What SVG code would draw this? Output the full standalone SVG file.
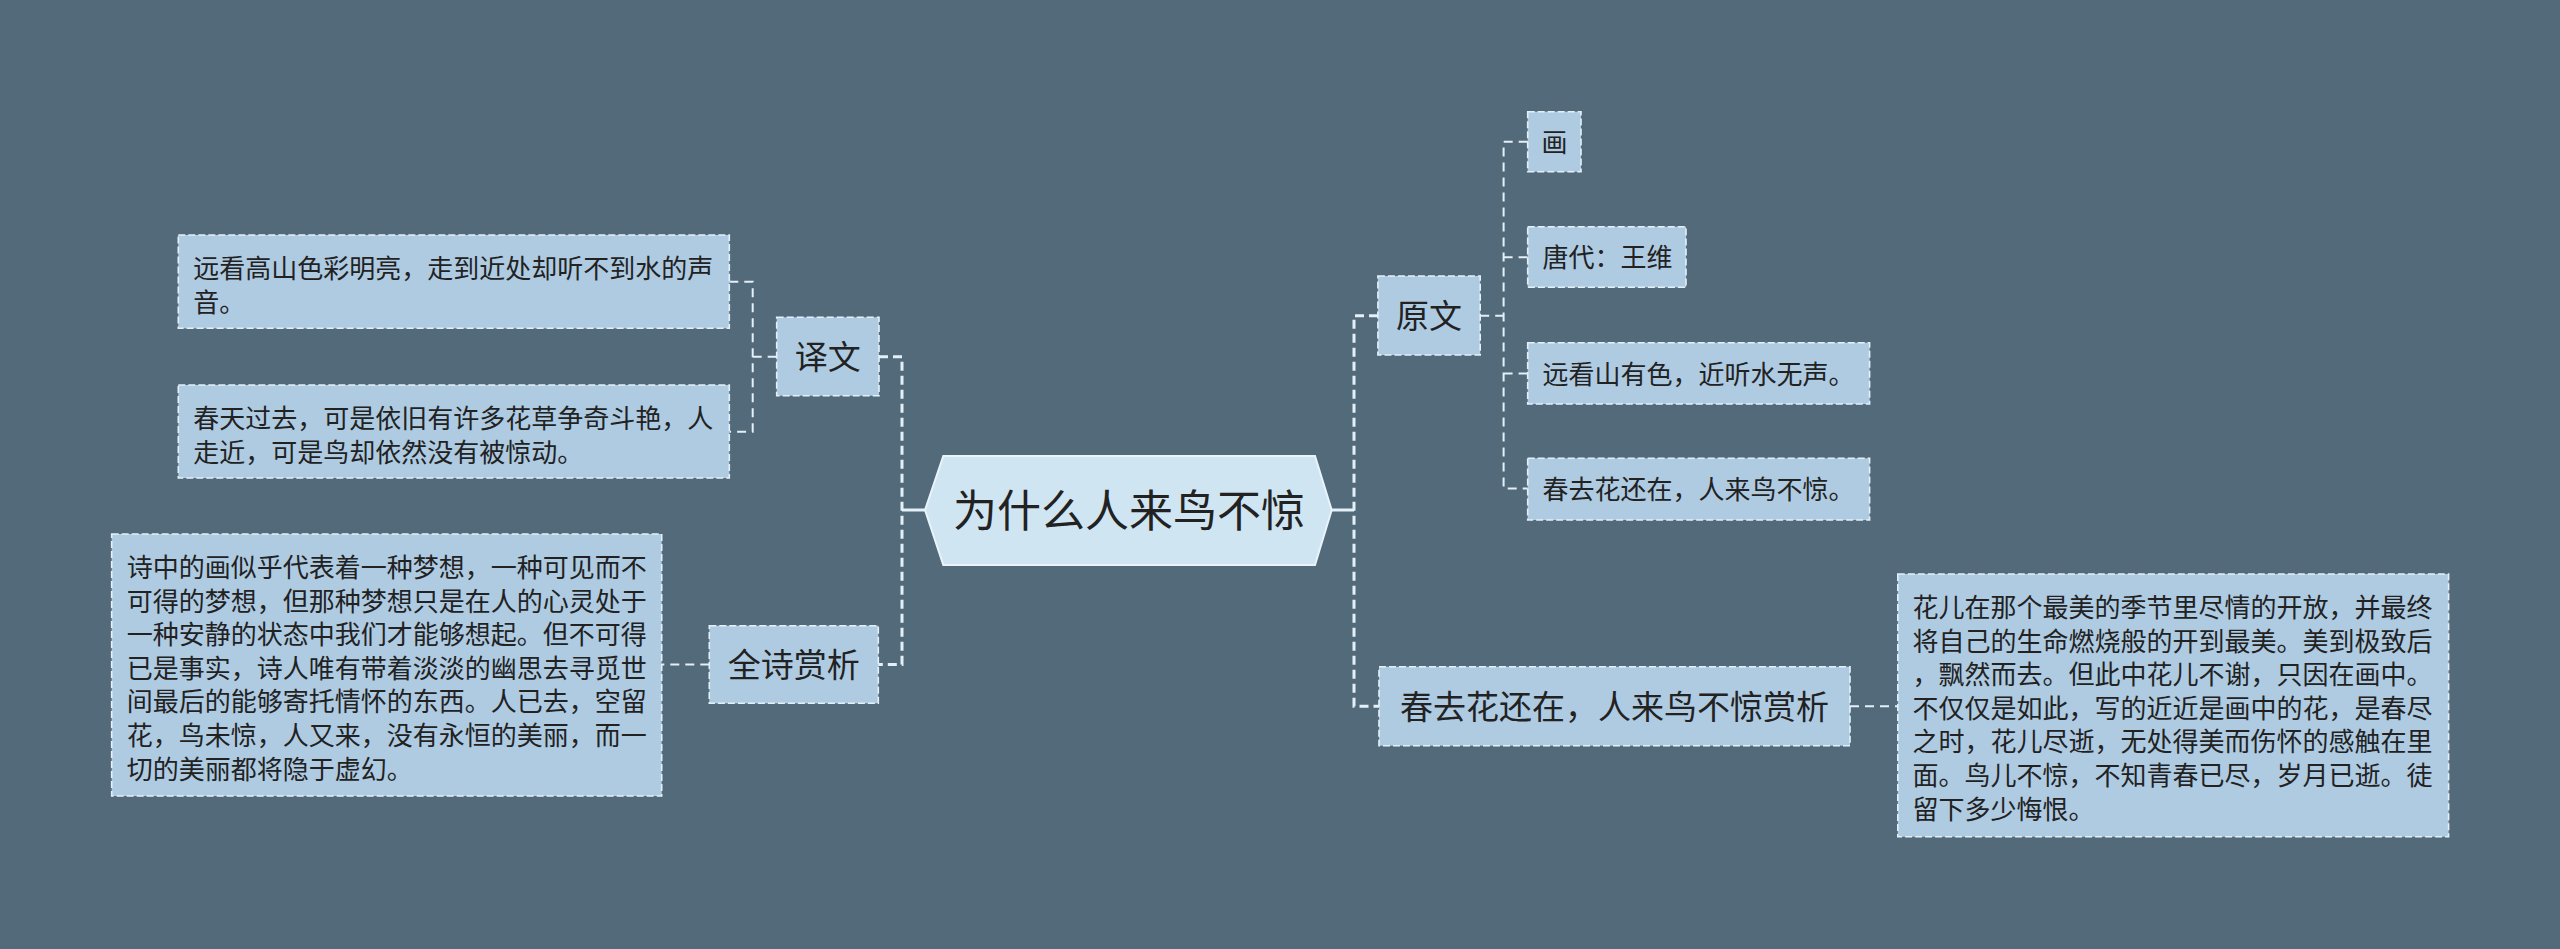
<svg xmlns="http://www.w3.org/2000/svg" width="2560" height="949" viewBox="0 0 2560 949">
<style>
.bg{fill:#536a7b}
.box{fill:#aecbe2;stroke:#e4f0f8;stroke-width:1.6;stroke-dasharray:7 3}
.t{font-family:"Noto Sans CJK SC","Noto Sans",sans-serif;fill:#222}
.s{font-size:26px}
.m{font-size:33px}
.c{text-anchor:middle}
.l1{fill:none;stroke:#e4f0f8;stroke-width:3;stroke-dasharray:9 5}
.l2{fill:none;stroke:#e4f0f8;stroke-width:2;stroke-dasharray:9 6}
.stub{fill:none;stroke:#e4f0f8;stroke-width:3}
</style>
<rect class="bg" x="0" y="0" width="2560" height="949"/>
<g id="connectors">
<path class="stub" d="M925 510 H902"/>
<path class="l1" d="M879 356.7 H902 V664.5 H878"/>
<path class="stub" d="M1332 510 H1354"/>
<path class="l1" d="M1378 315.7 H1354 V706.2 H1379"/>
<path class="l2" d="M776.7 356.7 H752.7 M729.3 281.7 H752.7 V431.7 H729.3"/>
<path class="l2" d="M709.3 664.5 H661.7"/>
<path class="l2" d="M1480.2 315.7 H1503.6 M1527.7 141.7 H1503.6 V488.5 H1527.7 M1503.6 257.3 H1527.7 M1503.6 373.5 H1527.7"/>
<path class="l2" d="M1850 706.2 H1897.8"/>
</g>
<g id="center">
<polygon points="925,510 943.3,456 1315,456 1331.7,510 1315,565 943.3,565" fill="#cfe5f2" stroke="#e8f3fa" stroke-width="2"/>
<text class="t c" x="1129" y="526.5" font-size="44">为什么人来鸟不惊</text>
</g>
<g id="yiwen">
<rect class="box" x="776.7" y="317.3" width="102.3" height="78.4"/>
<text class="t m c" x="827.8" y="369">译文</text>
</g>
<g id="yiwen1">
<rect class="box" x="178.3" y="235" width="551" height="93.3"/>
<text class="t s" x="193.3" y="278">远看高山色彩明亮，走到近处却听不到水的声<tspan x="193.3" y="311.6">音。</tspan></text>
</g>
<g id="yiwen2">
<rect class="box" x="178.3" y="385" width="551" height="93"/>
<text class="t s" x="193.3" y="428">春天过去，可是依旧有许多花草争奇斗艳，人<tspan x="193.3" y="461.6">走近，可是鸟却依然没有被惊动。</tspan></text>
</g>
<g id="shangxi">
<rect class="box" x="709.3" y="625.7" width="169" height="77.6"/>
<text class="t m c" x="793.8" y="677">全诗赏析</text>
</g>
<g id="shangxi1">
<rect class="box" x="111.7" y="534" width="550" height="262"/>
<text class="t s" x="126.7" y="577">诗中的画似乎代表着一种梦想，一种可见而不<tspan x="126.7" y="610.6">可得的梦想，但那种梦想只是在人的心灵处于</tspan><tspan x="126.7" y="644.2">一种安静的状态中我们才能够想起。但不可得</tspan><tspan x="126.7" y="677.8">已是事实，诗人唯有带着淡淡的幽思去寻觅世</tspan><tspan x="126.7" y="711.4">间最后的能够寄托情怀的东西。人已去，空留</tspan><tspan x="126.7" y="745">花，鸟未惊，人又来，没有永恒的美丽，而一</tspan><tspan x="126.7" y="778.6">切的美丽都将隐于虚幻。</tspan></text>
</g>
<g id="yuanwen">
<rect class="box" x="1377.9" y="276" width="102.3" height="79"/>
<text class="t m c" x="1429" y="328">原文</text>
</g>
<g id="yw1">
<rect class="box" x="1527.7" y="111.7" width="53.3" height="60"/>
<text class="t s" x="1541.5" y="151.5">画</text>
</g>
<g id="yw2">
<rect class="box" x="1527.7" y="226.7" width="158.3" height="60.6"/>
<text class="t s" x="1542.5" y="267">唐代：王维</text>
</g>
<g id="yw3">
<rect class="box" x="1527.7" y="342.7" width="341.9" height="61.3"/>
<text class="t s" x="1542.5" y="383.5">远看山有色，近听水无声。</text>
</g>
<g id="yw4">
<rect class="box" x="1527.7" y="458.3" width="341.9" height="61.7"/>
<text class="t s" x="1542.5" y="499">春去花还在，人来鸟不惊。</text>
</g>
<g id="chunqu">
<rect class="box" x="1379" y="666.7" width="471" height="79"/>
<text class="t m c" x="1614.5" y="718.7">春去花还在，人来鸟不惊赏析</text>
</g>
<g id="chunqu1">
<rect class="box" x="1897.8" y="574" width="550.8" height="262.7"/>
<text class="t s" x="1912.6" y="617">花儿在那个最美的季节里尽情的开放，并最终<tspan x="1912.6" y="650.6">将自己的生命燃烧般的开到最美。美到极致后</tspan><tspan x="1912.6" y="684.2">，飘然而去。但此中花儿不谢，只因在画中。</tspan><tspan x="1912.6" y="717.8">不仅仅是如此，写的近近是画中的花，是春尽</tspan><tspan x="1912.6" y="751.4">之时，花儿尽逝，无处得美而伤怀的感触在里</tspan><tspan x="1912.6" y="785">面。鸟儿不惊，不知青春已尽，岁月已逝。徒</tspan><tspan x="1912.6" y="818.6">留下多少悔恨。</tspan></text>
</g>
</svg>
